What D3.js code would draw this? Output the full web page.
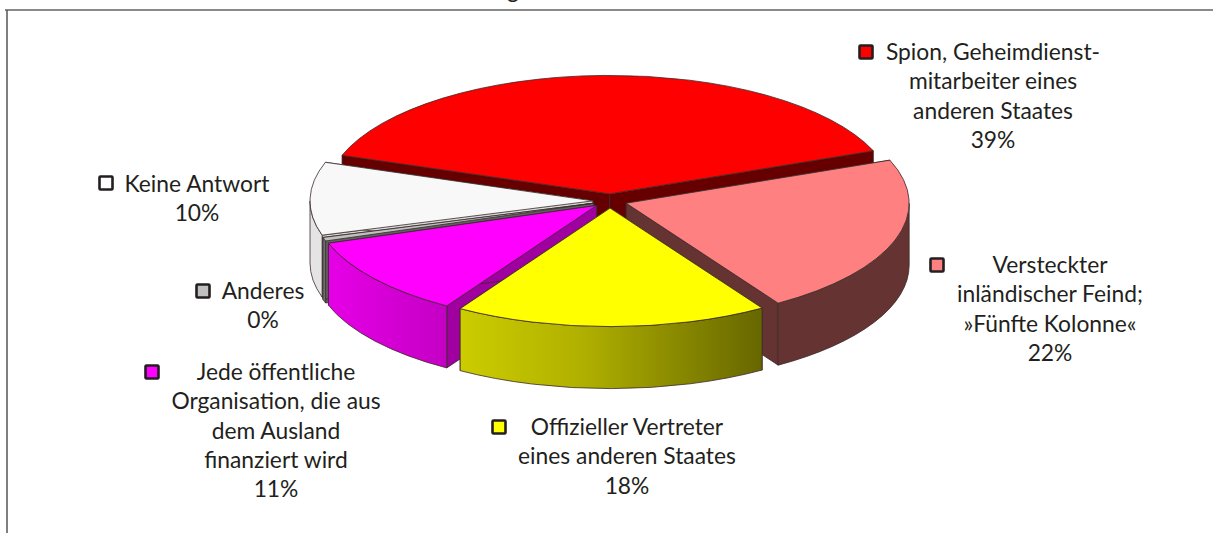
<!DOCTYPE html>
<html lang="de">
<head>
<meta charset="utf-8">
<script src="https://cdn.jsdelivr.net/npm/d3@7/dist/d3.min.js"></script>
<style>
    html, body { margin: 0; padding: 0; background: #fff; overflow: hidden; }
    svg { display: block; }
    text { font-family: Lato, "Noto Sans", sans-serif; font-size: 22.8px; fill: #231f20; text-anchor: middle; }
</style>
</head>
<body>
<svg id="chart" width="1213" height="533"></svg>
<script>
// chart data, in pie order (clockwise from the red slice)
const categories = [
    ["Spion, Geheimdienst-", "mitarbeiter eines", "anderen Staates"],
    ["Versteckter", "inländischer Feind;", "»Fünfte Kolonne«"],
    ["Offizieller Vertreter", "eines anderen Staates"],
    ["Jede öffentliche", "Organisation, die aus", "dem Ausland", "finanziert wird"],
    ["Anderes"],
    ["Keine Antwort"]
];
const values = [39, 22, 18, 11, 0.5, 10];
const percentLabels = ["39%", "22%", "18%", "11%", "0%", "10%"];

const topColors = ["#ff0000", "#ff8080", "#ffff00", "#ff00ff", "#c0c0c0", "#f8f8f8"];
const cutColors = ["#660000", "#663333", "#808000", "#a000a0", "#606060", "#d8d8d8"];
const wallColors = ["#800000", "#663333", "url(#wall-yellow)", "url(#wall-magenta)", "#707070", "#e4e4e4"];
const swatchColors = ["#ff0000", "#ff8080", "#ffff00", "#ff00ff", "#c0c0c0", "#ffffff"];

// label layout: swatch centre, text centre, first baseline
const labelLayout = [
    { sx: 866, sy: 52, tx: 993, ty: 60 },
    { sx: 937, sy: 265, tx: 1050, ty: 273 },
    { sx: 499, sy: 427, tx: 627, ty: 435 },
    { sx: 152, sy: 372, tx: 276, ty: 380 },
    { sx: 203, sy: 291, tx: 263, ty: 299 },
    { sx: 106, sy: 183, tx: 197, ty: 192 }
];

const width = 1213;
const height = 533;
const cx = 610;
const cy = 201;
const rx = 283;
const ry = 118.5;
const depth = 62;
const explode = 17;
const lineHeight = 29.3;

const svg = d3.select("#chart");
const defs = svg.append("defs");

function wallGradient(id, x1, x2, stops) {
    const g = defs.append("linearGradient")
        .attr("id", id)
        .attr("gradientUnits", "userSpaceOnUse")
        .attr("x1", x1).attr("x2", x2).attr("y1", 0).attr("y2", 0);
    stops.forEach(s => g.append("stop").attr("offset", s[0]).attr("stop-color", s[1]));
}
wallGradient("wall-yellow", 461, 763, [[0, "#cccc00"], [0.4, "#b0b000"], [1, "#666600"]]);
wallGradient("wall-magenta", 328, 447, [[0, "#e600e6"], [1, "#c400c4"]]);

// frame, the top and left edges of the cropped figure box
// the title above it is cut off by the crop, only its descender shows
svg.append("text").attr("x", 513).attr("y", -2).text("g");
svg.append("path")
    .attr("d", `M5,10H${width}`)
    .attr("stroke", "#8a8a8a").attr("stroke-width", 2).attr("fill", "none");
svg.append("path")
    .attr("d", `M7,10V${height}`)
    .attr("stroke", "#555").attr("stroke-width", 1.5).attr("fill", "none");

const startAngle = -71 * Math.PI / 180;
const pie = d3.pie()
    .sort(null)
    .value(d => d)
    .startAngle(startAngle)
    .endAngle(startAngle + 2 * Math.PI);

const slices = pie(values).map((d, i) => {
    const mid = (d.startAngle + d.endAngle) / 2;
    return {
        ...d,
        i,
        mid,
        ox: cx + explode * Math.sin(mid),
        oy: cy - explode * (ry / rx) * Math.cos(mid)
    };
});

// paint from back to front
slices.sort((a, b) => Math.cos(b.mid) - Math.cos(a.mid));

function rim(s, a) {
    return [s.ox + rx * Math.sin(a), s.oy - ry * Math.cos(a)];
}

function arcTo(p, a0, a1) {
    const large = a1 - a0 > Math.PI ? 1 : 0;
    return `A${rx},${ry} 0 ${large} 1 ${p[0]},${p[1]}`;
}

function topPath(s) {
    const p0 = rim(s, s.startAngle);
    const p1 = rim(s, s.endAngle);
    return `M${s.ox},${s.oy}L${p0[0]},${p0[1]}${arcTo(p1, s.startAngle, s.endAngle)}Z`;
}

function cutPath(s, a) {
    const p = rim(s, a);
    return `M${s.ox},${s.oy}L${p[0]},${p[1]}V${p[1] + depth}L${s.ox},${s.oy + depth}Z`;
}

function wallPath(s) {
    // only the part of the rim on the near side of the pie shows
    const a0 = Math.max(s.startAngle, Math.PI / 2);
    const a1 = Math.min(s.endAngle, 1.5 * Math.PI);
    if (a1 <= a0) return null;
    const p0 = rim(s, a0);
    const p1 = rim(s, a1);
    const b1 = [p1[0], p1[1] + depth];
    const b0 = [p0[0], p0[1] + depth];
    return `M${p0[0]},${p0[1]}${arcTo(p1, a0, a1)}L${b1[0]},${b1[1]}A${rx},${ry} 0 0 0 ${b0[0]},${b0[1]}Z`;
}

const pieGroup = svg.append("g")
    .attr("stroke", "#3a2a2a")
    .attr("stroke-width", 0.8)
    .attr("stroke-linejoin", "round");

slices.forEach(s => {
    const g = pieGroup.append("g").attr("class", "slice");
    [s.startAngle, s.endAngle].forEach(a => {
        g.append("path").attr("d", cutPath(s, a)).attr("fill", cutColors[s.i]);
    });
    const wall = wallPath(s);
    if (wall) g.append("path").attr("d", wall).attr("fill", wallColors[s.i]);
    g.append("path").attr("d", topPath(s)).attr("fill", topColors[s.i]);
});

// Labels with swatches
const labels = svg.selectAll(".label")
    .data(categories)
    .enter()
    .append("g")
    .attr("class", "label");

labels.append("rect")
    .attr("x", (d, i) => labelLayout[i].sx - 6.5)
    .attr("y", (d, i) => labelLayout[i].sy - 6.5)
    .attr("width", 13)
    .attr("height", 13)
    .attr("rx", 1)
    .attr("fill", (d, i) => swatchColors[i])
    .attr("stroke", "#231f20")
    .attr("stroke-width", 2.6);

labels.each(function (d, i) {
    const lines = d.concat(percentLabels[i]);
    d3.select(this).selectAll("text")
        .data(lines)
        .enter()
        .append("text")
        .attr("x", labelLayout[i].tx)
        .attr("y", (t, k) => labelLayout[i].ty + k * lineHeight)
        .text(t => t);
});
</script>
</body>
</html>
